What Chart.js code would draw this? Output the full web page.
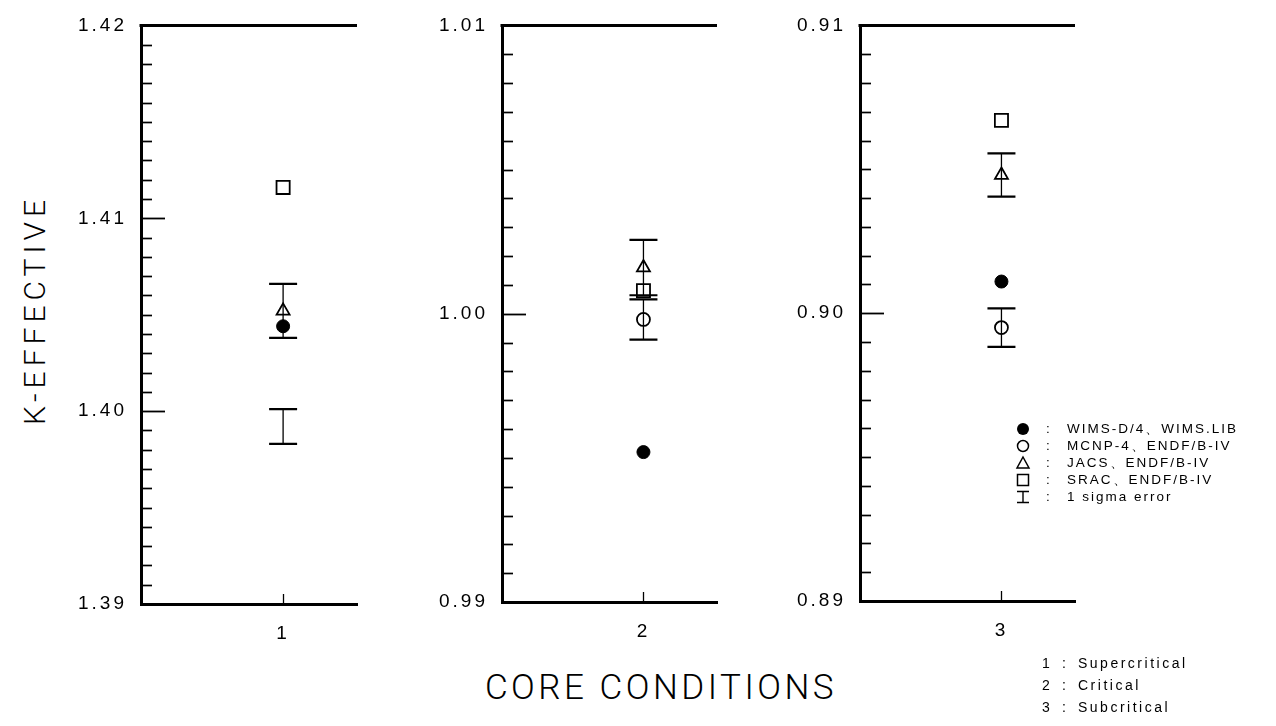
<!DOCTYPE html>
<html><head><meta charset="utf-8">
<script src="https://cdn.jsdelivr.net/npm/chart.js@4.4.0/dist/chart.umd.min.js"></script>
<style>
html,body{margin:0;padding:0;background:#fff;width:1276px;height:726px;overflow:hidden;position:relative;font-family:"Liberation Sans",Arial,sans-serif;color:#000}
canvas{position:absolute;top:0}
.t{position:absolute;white-space:nowrap;line-height:1}
#ylab{font-family:Roboto,"Liberation Sans",sans-serif;font-weight:300;font-size:30px;letter-spacing:5px;left:35px;top:310px;transform:translate(-50%,-50%) rotate(-90deg)}
#xlab{font-family:Roboto,"Liberation Sans",sans-serif;font-weight:300;font-size:35px;letter-spacing:3.5px;left:661px;top:687px;transform:translate(-50%,-50%)}
.row{position:absolute;height:18px;line-height:18px;font-size:13.5px;letter-spacing:2px;white-space:nowrap}
.row svg{position:absolute;top:1px}
.row span{position:absolute}
</style></head><body>
<canvas id="c1"></canvas><canvas id="c2"></canvas><canvas id="c3"></canvas>
<div class="t" id="ylab">K-EFFECTIVE</div>
<div class="t" id="xlab">CORE CONDITIONS</div>
<div id="legend"></div>
<div id="notes"></div>
<script>
// ---- data ----
const conditions = [1, 2, 3];
const conditionNames = ['Supercritical', 'Critical', 'Subcritical'];
const yTickValues = [[1.39, 1.40, 1.41, 1.42], [0.99, 1.00, 1.01], [0.89, 0.90, 0.91]];
const minorStep = 0.001;
const wimsD4 = [1.4044, 0.9952, 0.9011];
const mcnp4 = [1.3992, 0.9998, 0.8995];
const mcnp4Sigma = [0.0009, 0.0007, 0.00067];
const mcnp4MarkerShown = [false, true, true];
const jacs = [1.4052, 1.0016, 0.9048];
const jacsSigma = [0.0014, 0.00096, 0.00075];
const srac = [1.4116, 1.0008, 0.9067];
const seriesNames = ['WIMS-D/4、WIMS.LIB', 'MCNP-4、ENDF/B-IV', 'JACS、ENDF/B-IV', 'SRAC、ENDF/B-IV'];
const sigmaName = '1 sigma error';

// ---- layout ----
const panelBox = [
  {left: 141, right: 357, top: 22, bottom: 604},
  {left: 502, right: 717, top: 22, bottom: 602},
  {left: 860, right: 1075, top: 20, bottom: 601}
];
const AXW = 80, CH = 660, RPAD = 12;
const FONT = '"Liberation Sans", Arial, sans-serif';

const framePlugin = {
  id: 'frame',
  beforeDraw(chart) { chart.ctx.letterSpacing = '3px'; },
  afterDatasetsDraw(chart) {
    const ctx = chart.ctx, ys = chart.scales.y, xs = chart.scales.x, a = chart.chartArea;
    ctx.save();
    ctx.letterSpacing = '0px';
    ctx.strokeStyle = '#000';
    // inward ticks on the left axis
    const n = Math.round((ys.max - ys.min) / minorStep);
    for (let k = 1; k < n; k++) {
      const v = ys.min + k * minorStep;
      const py = Math.round(ys.getPixelForValue(v)) + 0.5;
      const major = k % 10 === 0;
      ctx.lineWidth = major ? 1.8 : 1.7;
      ctx.beginPath(); ctx.moveTo(a.left, py); ctx.lineTo(a.left + (major ? 24 : 11), py); ctx.stroke();
    }
    // top frame line
    ctx.lineWidth = 3;
    ctx.beginPath(); ctx.moveTo(a.left - 1.5, a.top); ctx.lineTo(a.right, a.top); ctx.stroke();
    // x tick (inward)
    xs.ticks.forEach(t => {
      const px = Math.round(xs.getPixelForValue(t.value)) + 0.5;
      ctx.lineWidth = 1.3;
      ctx.beginPath(); ctx.moveTo(px, a.bottom); ctx.lineTo(px, a.bottom - 10); ctx.stroke();
    });
    // error bars
    chart.data.datasets.forEach(ds => {
      if (!ds.sigma) return;
      ds.data.forEach((p, j) => {
        const s = ds.sigma[j];
        const px = xs.getPixelForValue(p.x);
        const y1 = ys.getPixelForValue(p.y + s), y2 = ys.getPixelForValue(p.y - s);
        ctx.lineWidth = 1.3;
        ctx.beginPath(); ctx.moveTo(px, y1); ctx.lineTo(px, y2); ctx.stroke();
        ctx.lineWidth = 2.2;
        ctx.beginPath();
        ctx.moveTo(px - 14, y1); ctx.lineTo(px + 14, y1);
        ctx.moveTo(px - 14, y2); ctx.lineTo(px + 14, y2);
        ctx.stroke();
      });
    });
    ctx.restore();
  }
};

conditions.forEach((c, i) => {
  const b = panelBox[i];
  const cv = document.getElementById('c' + (i + 1));
  const W = (b.right - b.left) + AXW + RPAD;
  cv.width = W; cv.height = CH;
  cv.style.left = (b.left - AXW) + 'px';
  const pt = v => [{x: c, y: v}];
  new Chart(cv, {
    type: 'scatter',
    data: {
      datasets: [
        {label: seriesNames[0], data: pt(wimsD4[i]), pointStyle: 'circle', pointRadius: 6.5,
         backgroundColor: '#000', borderColor: '#000', borderWidth: 1},
        {label: seriesNames[1], data: pt(mcnp4[i]), sigma: [mcnp4Sigma[i]], pointStyle: 'circle',
         pointRadius: mcnp4MarkerShown[i] ? 6.5 : 0, backgroundColor: 'rgba(0,0,0,0)', borderColor: '#000', borderWidth: 1.8},
        {label: seriesNames[2], data: pt(jacs[i]), sigma: [jacsSigma[i]], pointStyle: 'triangle', pointRadius: 7.5,
         backgroundColor: 'rgba(0,0,0,0)', borderColor: '#000', borderWidth: 1.8},
        {label: seriesNames[3], data: pt(srac[i]), pointStyle: 'rect', pointRadius: 9.3,
         backgroundColor: 'rgba(0,0,0,0)', borderColor: '#000', borderWidth: 1.8}
      ]
    },
    options: {
      responsive: false, animation: false, events: [],
      layout: {padding: {top: b.top, right: RPAD, left: 0, bottom: 0}},
      plugins: {legend: {display: false}, tooltip: {enabled: false}},
      scales: {
        x: {
          type: 'linear', min: c - 1, max: c + 0.52,
          afterBuildTicks: s => { s.ticks = [{value: c}]; },
          afterFit: s => { s.height = CH - b.bottom; },
          grid: {display: false, drawTicks: false},
          border: {display: true, width: 3, color: '#000'},
          ticks: {color: '#000', padding: 18, maxRotation: 0, autoSkip: false,
                  font: {family: FONT, size: 19}, callback: v => String(v)}
        },
        y: {
          type: 'linear', min: yTickValues[i][0], max: yTickValues[i][yTickValues[i].length - 1],
          afterBuildTicks: s => { s.ticks = yTickValues[i].map(v => ({value: v})); },
          afterFit: s => { s.width = AXW; },
          grid: {display: false, drawTicks: false},
          border: {display: true, width: 3, color: '#000'},
          ticks: {color: '#000', padding: 14, font: {family: FONT, size: 19},
                  callback: v => Number(v).toFixed(2)}
        }
      }
    },
    plugins: [framePlugin]
  });
});

// ---- legend ----
const sym = [
  '<svg width="16" height="16"><circle cx="8" cy="8" r="6" fill="#000"/></svg>',
  '<svg width="16" height="16"><circle cx="8" cy="8" r="5.5" fill="none" stroke="#000" stroke-width="1.5"/></svg>',
  '<svg width="16" height="16"><path d="M8 2 L14 13 L2 13 Z" fill="none" stroke="#000" stroke-width="1.5"/></svg>',
  '<svg width="16" height="16"><rect x="2.5" y="2.5" width="11" height="11" fill="none" stroke="#000" stroke-width="1.5"/></svg>',
  '<svg width="16" height="16"><path d="M2 2.5 H14 M8 2.5 V13.5 M2 13.5 H14" fill="none" stroke="#000" stroke-width="1.4"/></svg>'
];
const legendTexts = seriesNames.concat([sigmaName]);
const legend = document.getElementById('legend');
legendTexts.forEach((txt, k) => {
  const r = document.createElement('div');
  r.className = 'row';
  r.style.left = '1015px';
  r.style.top = (429 + k * 17 - 9) + 'px';
  r.innerHTML = sym[k] + '<span style="left:31px">:</span><span style="left:52px">' + txt + '</span>';
  legend.appendChild(r);
});
const notes = document.getElementById('notes');
conditions.forEach((c, k) => {
  const r = document.createElement('div');
  r.className = 'row';
  r.style.fontSize = '14px';
  r.style.letterSpacing = '2.5px';
  r.style.left = '1042px';
  r.style.top = (663 + k * 22 - 9) + 'px';
  r.innerHTML = '<span style="left:0">' + c + '</span><span style="left:20px">:</span><span style="left:36px">' + conditionNames[k] + '</span>';
  notes.appendChild(r);
});
</script>
</body></html>
